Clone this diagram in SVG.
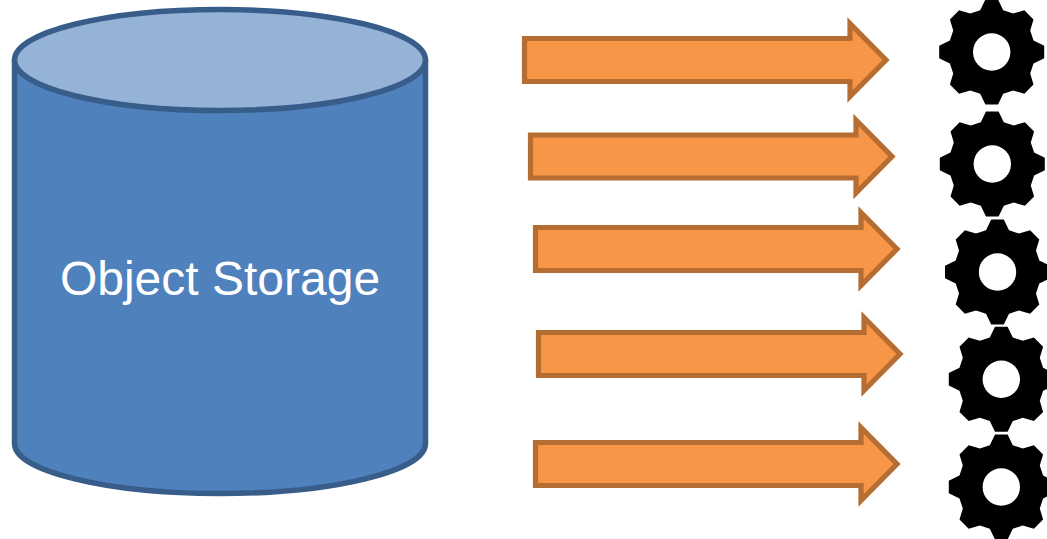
<svg xmlns="http://www.w3.org/2000/svg" width="1047" height="539" viewBox="0 0 1047 539">
<style>
.cyl{stroke:#385d8a;stroke-width:5.5;stroke-linejoin:round}
.arrow{fill:#f79646;stroke:#b66d31;stroke-width:5.2;stroke-linejoin:miter;stroke-miterlimit:10}
.gear{fill:#000;fill-rule:evenodd}
.label{font-family:"Liberation Sans",Arial,sans-serif;font-size:48px;fill:#fff;text-anchor:middle}
</style>
<defs>
<path id="gear-shape" class="gear" d="M-6.3,-52.5L6.3,-52.5L11.5,-41.8L21.5,-38.5L32.6,-41.8L41.8,-32.6L38.5,-21.5L41.8,-11.5L52.5,-6.3L52.5,6.3L41.8,11.5L38.5,21.5L41.8,32.6L32.6,41.8L21.5,38.5L11.5,41.8L6.3,52.5L-6.3,52.5L-11.5,41.8L-21.5,38.5L-32.6,41.8L-41.8,32.6L-38.5,21.5L-41.8,11.5L-52.5,6.3L-52.5,-6.3L-41.8,-11.5L-38.5,-21.5L-41.8,-32.6L-32.6,-41.8L-21.5,-38.5L-11.5,-41.8Z M18.7,0A18.7,18.7 0 1 0 -18.7,0A18.7,18.7 0 1 0 18.7,0Z"/>
<path id="arrow-shape" class="arrow" d="M0,-21.5H325.5V-36.500L361.500,0L325.5,36.500V21.5H0Z"/>
</defs>
<g id="object-storage">
<path class="cyl" fill="#4f81bd" d="M14.5,60V443.5C14.5,471 106.5,493.5 220,493.5S425.5,471 425.5,443.5V60Z"/>
<ellipse class="cyl" fill="#95b3d7" cx="220" cy="60" rx="205.5" ry="50.500"/>
<text class="label" x="220" y="295">Object Storage</text>
</g>
<g id="connectors">
<use href="#arrow-shape" x="524.500" y="60"/>
<use href="#arrow-shape" x="530.500" y="156.500"/>
<use href="#arrow-shape" x="535.500" y="249"/>
<use href="#arrow-shape" x="538.500" y="354"/>
<use href="#arrow-shape" x="535.500" y="464"/>
</g>
<g id="gear-1"><use href="#gear-shape" x="991.700" y="52"/></g>
<g id="gear-2"><use href="#gear-shape" x="992.300" y="164"/></g>
<g id="gear-3"><use href="#gear-shape" x="997.500" y="272"/></g>
<g id="gear-4"><use href="#gear-shape" x="1001.300" y="379.300"/></g>
<g id="gear-5"><use href="#gear-shape" x="1001.300" y="487"/></g>
</svg>
